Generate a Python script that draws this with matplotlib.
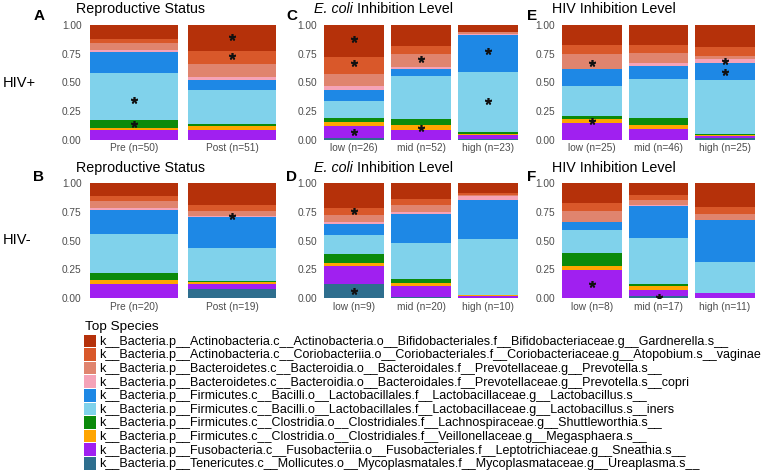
import numpy as np
import matplotlib
matplotlib.use("Agg")
import matplotlib.pyplot as plt
from matplotlib.patches import Rectangle

plt.rcParams['font.family'] = ['Liberation Sans', 'DejaVu Sans']

# legend order (top of stack first)
species = [
    "k__Bacteria.p__Actinobacteria.c__Actinobacteria.o__Bifidobacteriales.f__Bifidobacteriaceae.g__Gardnerella.s__",
    "k__Bacteria.p__Actinobacteria.c__Coriobacteriia.o__Coriobacteriales.f__Coriobacteriaceae.g__Atopobium.s__vaginae",
    "k__Bacteria.p__Bacteroidetes.c__Bacteroidia.o__Bacteroidales.f__Prevotellaceae.g__Prevotella.s__",
    "k__Bacteria.p__Bacteroidetes.c__Bacteroidia.o__Bacteroidales.f__Prevotellaceae.g__Prevotella.s__copri",
    "k__Bacteria.p__Firmicutes.c__Bacilli.o__Lactobacillales.f__Lactobacillaceae.g__Lactobacillus.s__",
    "k__Bacteria.p__Firmicutes.c__Bacilli.o__Lactobacillales.f__Lactobacillaceae.g__Lactobacillus.s__iners",
    "k__Bacteria.p__Firmicutes.c__Clostridia.o__Clostridiales.f__Lachnospiraceae.g__Shuttleworthia.s__",
    "k__Bacteria.p__Firmicutes.c__Clostridia.o__Clostridiales.f__Veillonellaceae.g__Megasphaera.s__",
    "k__Bacteria.p__Fusobacteria.c__Fusobacteriia.o__Fusobacteriales.f__Leptotrichiaceae.g__Sneathia.s__",
    "k__Bacteria.p__Tenericutes.c__Mollicutes.o__Mycoplasmatales.f__Mycoplasmataceae.g__Ureaplasma.s__",
]
colors = ["#B5310A", "#D9582A", "#E0846E", "#F5A3B8", "#1E88E5",
          "#80D2EB", "#0B8A0B", "#FFA500", "#A020F0", "#2E6E8E"]

# mean relative abundance per bar, same order as species
A_labels = ["Pre (n=50)", "Post (n=51)"]
A_vals = [[0.125, 0.034, 0.058, 0.015, 0.183, 0.411, 0.070, 0.023, 0.081, 0.000],
          [0.226, 0.113, 0.116, 0.023, 0.087, 0.302, 0.011, 0.035, 0.087, 0.000]]
A_stars = [(0, 0.348), (0, 0.136), (1, 0.893), (1, 0.730)]

B_labels = ["Pre (n=20)", "Post (n=19)"]
B_vals = [[0.110, 0.044, 0.063, 0.015, 0.209, 0.342, 0.060, 0.032, 0.125, 0.000],
          [0.188, 0.053, 0.043, 0.015, 0.266, 0.287, 0.003, 0.020, 0.044, 0.081]]
B_stars = [(1, 0.716)]

C_labels = ["low (n=26)", "mid (n=52)", "high (n=23)"]
C_vals = [[0.277, 0.151, 0.107, 0.029, 0.104, 0.147, 0.035, 0.034, 0.106, 0.010],
          [0.182, 0.067, 0.115, 0.020, 0.058, 0.379, 0.055, 0.043, 0.081, 0.000],
          [0.058, 0.005, 0.012, 0.012, 0.326, 0.523, 0.014, 0.010, 0.035, 0.005]]
C_stars = [(0, 0.882), (0, 0.671), (0, 0.066), (1, 0.702), (1, 0.104), (2, 0.775), (2, 0.335)]

D_labels = ["low (n=9)", "mid (n=20)", "high (n=10)"]
D_vals = [[0.219, 0.058, 0.057, 0.018, 0.095, 0.173, 0.077, 0.021, 0.158, 0.124],
          [0.138, 0.049, 0.067, 0.011, 0.259, 0.312, 0.029, 0.028, 0.093, 0.014],
          [0.084, 0.017, 0.014, 0.035, 0.334, 0.486, 0.000, 0.013, 0.012, 0.005]]
D_stars = [(0, 0.758), (0, 0.066)]

E_labels = ["low (n=25)", "mid (n=46)", "high (n=25)"]
E_vals = [[0.176, 0.078, 0.125, 0.005, 0.145, 0.263, 0.023, 0.040, 0.139, 0.000],
          [0.173, 0.070, 0.092, 0.026, 0.113, 0.335, 0.064, 0.035, 0.092, 0.000],
          [0.191, 0.078, 0.032, 0.028, 0.148, 0.475, 0.008, 0.010, 0.015, 0.015]]
E_stars = [(0, 0.671), (0, 0.162), (2, 0.682), (2, 0.592)]

F_labels = ["low (n=8)", "mid (n=17)", "high (n=11)"]
F_vals = [[0.173, 0.072, 0.095, 0.000, 0.069, 0.202, 0.109, 0.035, 0.245, 0.000],
          [0.107, 0.037, 0.046, 0.012, 0.274, 0.400, 0.019, 0.033, 0.049, 0.023],
          [0.207, 0.058, 0.058, 0.000, 0.363, 0.265, 0.000, 0.000, 0.049, 0.000]]
F_stars = [(0, 0.121), (1, 0.014)]

W, H = 762, 472
fig = plt.figure(figsize=(W / 100, H / 100), dpi=100)

col_x = [(85, 281), (320.7, 521.3), (558.7, 758.3)]
row_y = [(25, 139.5), (183, 298.3)]
letter_x = [33.5, 286, 526.7]
title_x = [76, 314, 552]


def draw_panel(col, row, letter, title, labels, vals, stars, italic=None):
    x0, x1 = col_x[col]
    y0, y1 = row_y[row]
    ax = fig.add_axes([x0 / W, 1 - y1 / H, (x1 - x0) / W, (y1 - y0) / H])
    vals = np.array(vals, dtype=float)
    vals = vals / vals.sum(axis=1, keepdims=True)
    x = np.arange(1, len(labels) + 1)
    bottom = np.zeros(len(labels))
    # stack from the last species (bottom) to the first (top)
    for j in range(len(species) - 1, -1, -1):
        ax.bar(x, vals[:, j], bottom=bottom, width=0.9, color=colors[j], linewidth=0)
        bottom += vals[:, j]
    sx = [x[i] for i, _ in stars]
    sy = [v for _, v in stars]
    ax.plot(sx, sy, linestyle="none", marker=(5, 2, 0), markersize=5,
            markeredgewidth=1.2, color="#111111")
    ax.set_xlim(0.5, len(labels) + 0.5)
    ax.set_ylim(0, 1)
    ax.set_yticks([0, 0.25, 0.5, 0.75, 1.0])
    ax.set_yticklabels(["0.00", "0.25", "0.50", "0.75", "1.00"])
    ax.set_xticks(x)
    ax.set_xticklabels(labels)
    ax.tick_params(length=0, labelsize=7.3, labelcolor="#4D4D4D", pad=2.5)
    for s in ax.spines.values():
        s.set_visible(False)

    base_l = 20 if row == 0 else 180.7
    base_t = 13.3 if row == 0 else 172.3
    fig.text(letter_x[col] / W, 1 - base_l / H, letter, fontsize=11, fontweight="bold",
             va="baseline", ha="left")
    if italic:
        t1 = fig.text(title_x[col] / W, 1 - base_t / H, italic, fontsize=10.3,
                      style="italic", va="baseline", ha="left")
        ax.annotate(title, xy=(1, 0), xycoords=t1, fontsize=10.3,
                    va="bottom", ha="left", annotation_clip=False)
    else:
        fig.text(title_x[col] / W, 1 - base_t / H, title, fontsize=10.3,
                 va="baseline", ha="left")
    return ax


draw_panel(0, 0, "A", "Reproductive Status", A_labels, A_vals, A_stars)
draw_panel(0, 1, "B", "Reproductive Status", B_labels, B_vals, B_stars)
draw_panel(1, 0, "C", " Inhibition Level", C_labels, C_vals, C_stars, italic="E. coli")
draw_panel(1, 1, "D", " Inhibition Level", D_labels, D_vals, D_stars, italic="E. coli")
draw_panel(2, 0, "E", "HIV Inhibition Level", E_labels, E_vals, E_stars)
draw_panel(2, 1, "F", "HIV Inhibition Level", F_labels, F_vals, F_stars)

fig.text(3 / W, 1 - 87.3 / H, "HIV+", fontsize=10.5, va="baseline", ha="left")
fig.text(3 / W, 1 - 244.5 / H, "HIV-", fontsize=10.5, va="baseline", ha="left")

# legend
fig.text(85 / W, 1 - 330 / H, "Top Species", fontsize=9.7, va="baseline", ha="left")
for i, (lab, c) in enumerate(zip(species, colors)):
    yc = 340.8 + 13.6 * i
    fig.patches.append(Rectangle((84 / W, 1 - (yc + 6.3) / H), 12.5 / W, 12.6 / H,
                                 transform=fig.transFigure, facecolor=c, edgecolor="none"))
    fig.text(99 / W, 1 - (yc + 4) / H, lab, fontsize=9.0, va="baseline", ha="left")

fig.savefig("out.png", dpi=100, facecolor="white")
